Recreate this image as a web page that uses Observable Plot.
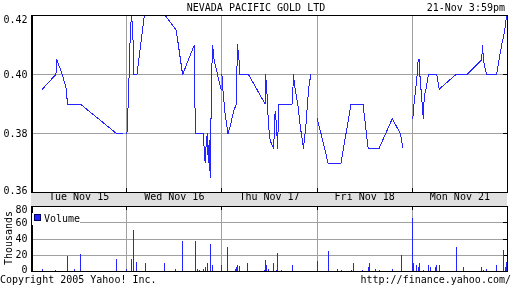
<!DOCTYPE html>
<html>
<head>
<meta charset="utf-8">
<script src="https://cdn.jsdelivr.net/npm/d3@7"></script>
<script src="https://cdn.jsdelivr.net/npm/@observablehq/plot@0.6"></script>
<style>
  html, body { margin: 0; padding: 0; background: white; }
  #c { position: relative; width: 512px; height: 288px; overflow: hidden;
       font-family: "DejaVu Sans Mono", monospace; font-size: 10px; line-height: 12px; color: black; }
  .abs { position: absolute; white-space: nowrap; }
</style>
</head>
<body>
<div id="c">
  <div id="price" class="abs" style="left:0;top:0;"></div>
  <div id="vol" class="abs" style="left:0;top:205px;"></div>
  <div class="abs" style="left:0;top:2px;width:512px;text-align:center;">NEVADA PACIFIC GOLD LTD</div>
  <div class="abs" style="right:7px;top:2px;">21-Nov 3:59pm</div>
  <div class="abs" style="left:32px;top:213px;width:48px;height:12px;background:white;"><span style="position:absolute;left:2px;top:1px;width:5px;height:5px;background:#2424ff;border:1px solid #000060;"></span><span style="position:absolute;left:12px;top:0;">Volume</span></div>
  <div class="abs" style="left:-21.5px;top:232px;width:60px;text-align:center;transform:rotate(-90deg);">Thousands</div>
  <div class="abs" style="left:0;top:274px;">Copyright 2005 Yahoo! Inc.</div>
  <div class="abs" style="right:1px;top:274px;">http://finance.yahoo.com/</div>
  <div class="abs" style="left:31px;top:193px;width:476px;height:13px;background:#e0e0e0;mix-blend-mode:multiply;"></div>
</div>
<script>
// ---- data ----
const days = ["Tue Nov 15", "Wed Nov 16", "Thu Nov 17", "Fri Nov 18", "Mon Nov 21"];
const priceTicks = [0.36, 0.38, 0.40, 0.42];
const volumeTicks = [0, 20, 40, 60, 80];

const priceDay = [
  0,0,0,0,0,0,0,0,0,
  1,1,1,1,1,1,1,1,1,1,1,1,1,1,1,1,1,1,1,1,1,1,1,1,1,1,1,
  2,2,2,2,2,2,2,2,2,2,2,2,2,2,2,2,2,2,2,2,2,2,2,2,2,2,2,2,2,2,2,
  3,3,3,3,3,3,3,3,3,3,3,
  4,4,4,4,4,4,4,4,4,4,4,4,4,4,4,4,4,4,4,4,4,4,4,4,4,4
];
const priceTime = [
  "10:14","11:10","11:14","11:36","11:53","11:57","12:50","15:18","15:41",
  "9:31","9:36","9:40","9:45","9:50","9:55","9:59","10:12","10:42","12:08","12:53","13:19","14:07","14:11","14:45","14:48","14:52","14:56","15:01","15:04","15:08","15:12","15:18","15:22","15:28","15:42","15:57",
  "9:30","9:34","9:42","9:55","10:04","10:18","10:29","10:31","10:34","10:40","10:42","11:19","12:27","12:29","12:34","12:41","12:48","13:02","13:08","13:14","13:18","13:23","14:19","14:23","14:30","14:41","14:51","15:04","15:14","15:25","15:34",
  "9:30","9:46","10:15","11:08","11:49","12:38","12:59","13:44","14:38","15:11","15:22",
  "9:32","9:37","9:44","9:50","9:54","9:59","10:01","10:08","10:15","10:19","10:26","10:36","11:10","11:20","12:29","13:15","14:14","14:18","14:21","14:34","15:15","15:36","15:49","15:56","16:00"
];
const priceValue = [
  0.395,0.400,0.405,0.400,0.395,0.390,0.390,0.380,0.380,
  0.380,0.390,0.400,0.415,0.420,0.415,0.400,0.400,0.420,0.420,0.415,0.400,0.410,0.380,0.380,0.3725,0.370,0.3775,0.380,0.370,0.3775,0.365,0.400,0.410,0.405,0.400,0.395,
  0.400,0.395,0.3875,0.380,0.3825,0.3875,0.390,0.400,0.410,0.405,0.400,0.400,0.390,0.400,0.395,0.3825,0.3775,0.375,0.3875,0.3825,0.375,0.390,0.390,0.400,0.395,0.390,0.3825,0.375,0.3825,0.395,0.400,
  0.385,0.380,0.370,0.370,0.390,0.390,0.375,0.375,0.385,0.380,0.375,
  0.385,0.390,0.395,0.400,0.405,0.405,0.400,0.3925,0.385,0.3925,0.395,0.400,0.400,0.395,0.400,0.400,0.405,0.410,0.405,0.400,0.400,0.410,0.415,0.420,0.420
];

const volumeDay = [
  0,0,0,0,0,0,0,0,
  1,1,1,1,1,1,1,1,1,1,1,1,1,1,1,1,
  2,2,2,2,2,2,2,2,2,2,2,2,2,2,2,2,
  3,3,3,3,3,3,3,3,3,3,3,3,3,
  4,4,4,4,4,4,4,4,4,4,4,4,4,4,4,4,4,4,4,4
];
const volumeTime = [
  "10:14","11:09","11:56","11:59","12:27","12:49","12:52","15:19",
  "9:30","9:50","9:59","10:11","10:45","12:06","12:50","13:19","14:12","14:20","14:27","14:45","14:53","15:01","15:14","15:22",
  "9:30","9:54","10:27","10:31","10:35","10:43","11:16","12:26","12:30","12:34","12:42","13:03","13:14","13:19","13:35","14:20",
  "9:30","10:15","10:52","11:10","11:49","12:01","12:38","12:59","13:03","13:31","13:44","14:37","15:14",
  "9:30","9:34","9:46","9:54","9:59","10:15","10:35","10:44","11:04","11:08","11:20","12:30","12:59","14:12","14:20","14:33","15:14","15:42","15:50","15:55"
];
const volumeK = [
  3,1,10,18,2,4,21,15,
  3,15,51,11,10,10,3,37,37,2,1,3,4.5,10,33,7,
  7,30,3,4.5,8,6,10,1,13,7,2,10,1,22,1,8,
  12,25,2,1,1,10,1,4.5,10,3,1,2,20,
  65,10,8,4.5,10,1,7,4.5,4.5,7,8,30,4.5,4.5,1,3,8,26,4.5,11
];

// ---- helpers ----
function pos(day, t) {
  const [h, m] = t.split(":").map(Number);
  return day + (h * 60 + m - 570) / 390;
}
const price = priceValue.map((v, i) => ({day: priceDay[i], x: pos(priceDay[i], priceTime[i]), y: v}));
const volume = volumeK.map((v, i) => ({x: pos(volumeDay[i], volumeTime[i]), y: v}));
const bounds = [1, 2, 3, 4];
const blue = "#2424ff";
const grid = "#a0a0a0";
const style = {background: "transparent", fontFamily: "DejaVu Sans Mono, monospace", fontSize: "10px"};

const pricePlot = Plot.plot({
  width: 512, height: 206,
  marginTop: 15, marginBottom: 14, marginLeft: 31, marginRight: 5,
  x: {domain: [0, 5], axis: null},
  y: {domain: [0.36, 0.42], axis: null},
  style,
  marks: [
    Plot.ruleY(priceTicks.slice(1, 3), {stroke: grid, shapeRendering: "crispEdges"}),
    Plot.ruleX(bounds, {stroke: grid, shapeRendering: "crispEdges"}),
    Plot.ruleX(bounds, {stroke: "black", insetTop: 173, shapeRendering: "crispEdges"}),
    Plot.ruleY(priceTicks.slice(1, 3), {stroke: "black", insetLeft: 472, shapeRendering: "crispEdges"}),
    Plot.line(price, {x: "x", y: "y", z: "day", stroke: blue, strokeWidth: 1, shapeRendering: "crispEdges"}),
    Plot.frame({stroke: "black", shapeRendering: "crispEdges"}),
    Plot.ruleX([0], {stroke: "black", strokeWidth: 2, shapeRendering: "crispEdges"}),
    Plot.text(priceTicks.slice(1, 3), {y: d => d, text: d => d.toFixed(2), frameAnchor: "left", textAnchor: "end", dx: -4, fill: "black"}),
    Plot.text(priceTicks.slice(3), {y: d => d, text: d => d.toFixed(2), frameAnchor: "left", textAnchor: "end", dx: -4, dy: 4, fill: "black"}),
    Plot.text(priceTicks.slice(0, 1), {y: d => d, text: d => d.toFixed(2), frameAnchor: "left", textAnchor: "end", dx: -4, dy: -2, fill: "black"}),
    Plot.text(days, {x: (d, i) => i + 0.5, text: d => d, frameAnchor: "bottom", dy: 7, fill: "black"})
  ]
});
document.getElementById("price").append(pricePlot);

const volPlot = Plot.plot({
  width: 512, height: 72,
  marginTop: 1, marginBottom: 6, marginLeft: 31, marginRight: 5,
  x: {domain: [0, 5], axis: null},
  y: {domain: [0, 80], axis: null},
  style,
  marks: [
    Plot.ruleY(volumeTicks.slice(1, 4), {stroke: grid, shapeRendering: "crispEdges"}),
    Plot.ruleX(bounds, {stroke: grid, shapeRendering: "crispEdges"}),
    Plot.ruleX(bounds, {stroke: "black", insetBottom: 61, shapeRendering: "crispEdges"}),
    Plot.ruleY(volumeTicks.slice(1, 4), {stroke: "black", insetLeft: 472, shapeRendering: "crispEdges"}),
    Plot.ruleX(volume, {x: "x", y1: 0, y2: "y", stroke: blue, shapeRendering: "crispEdges"}),
    Plot.frame({stroke: "black", shapeRendering: "crispEdges"}),
    Plot.ruleX([0], {stroke: "black", strokeWidth: 2, shapeRendering: "crispEdges"}),
    Plot.text(volumeTicks.slice(1, 4), {y: d => d, text: d => String(d), frameAnchor: "left", textAnchor: "end", dx: -4, fill: "black"}),
    Plot.text(volumeTicks.slice(4), {y: d => d, text: d => String(d), frameAnchor: "left", textAnchor: "end", dx: -4, dy: 3, fill: "black"}),
    Plot.text(volumeTicks.slice(0, 1), {y: d => d, text: d => String(d), frameAnchor: "left", textAnchor: "end", dx: -4, dy: -2, fill: "black"})
  ]
});
document.getElementById("vol").append(volPlot);
</script>
</body>
</html>
